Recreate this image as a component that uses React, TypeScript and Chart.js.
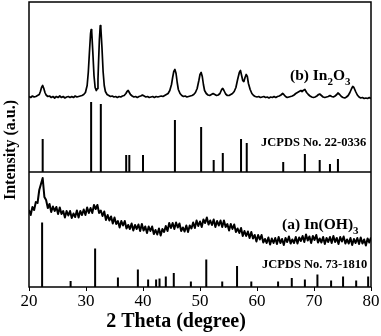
import React, { useEffect, useRef } from "react";
import { Chart, registerables } from "chart.js";
Chart.register(...registerables);

// ---------- data ----------
const thetaMin = 20;
const thetaMax = 80;
const thetaStep = 10;

// (b) In2O3 pattern: [2θ, intensity above its baseline]
const in2o3Pattern: [number, number][] = [
  [20.0, 1], [20.3, 0], [20.6, 1.5], [20.9, 0.5], [21.2, 1], [21.5, 2], [21.8, 3], [22.0, 6], [22.2, 10], [22.4, 12],
  [22.6, 9], [22.8, 5], [23.0, 2.5], [23.3, 1], [23.6, 1.5], [23.9, 0], [24.2, 1], [24.5, -0.5], [24.8, 1], [25.1, 0],
  [25.4, 1.5], [25.7, 0], [26.0, 1], [26.3, -0.5], [26.6, 0.5], [26.9, 1], [27.2, 0], [27.5, 1], [27.8, 0], [28.1, 1.5],
  [28.4, 0.5], [28.7, 1], [29.0, 1.5], [29.3, 2], [29.6, 3], [29.9, 5], [30.2, 12], [30.4, 25], [30.6, 45], [30.8, 64],
  [30.9, 68], [31.0, 66], [31.2, 45], [31.4, 22], [31.6, 10], [31.8, 7], [32.0, 9], [32.1, 18], [32.2, 35], [32.35, 58],
  [32.5, 72], [32.6, 70], [32.8, 50], [33.0, 26], [33.2, 12], [33.4, 6], [33.7, 3], [34.0, 2], [34.3, 1], [34.6, 1.5],
  [34.9, 0.5], [35.2, 1], [35.5, 0], [35.8, 1], [36.1, 0.5], [36.4, 1.5], [36.7, 2], [37.0, 4], [37.2, 6], [37.4, 7],
  [37.6, 5], [37.8, 3], [38.1, 1.5], [38.4, 0.5], [38.7, 1], [39.0, 0], [39.3, 1], [39.6, 1.5], [39.9, 2.5], [40.2, 1.5],
  [40.5, 0.5], [40.8, 1], [41.1, 0], [41.4, 0.5], [41.7, 1], [42.0, 0], [42.3, 1], [42.6, 0.5], [42.9, 1], [43.2, 1.5],
  [43.5, 1], [43.8, 2], [44.1, 3], [44.4, 4], [44.7, 7], [45.0, 13], [45.2, 20], [45.4, 26], [45.6, 28], [45.8, 24],
  [46.0, 15], [46.2, 8], [46.5, 4], [46.8, 2], [47.1, 1], [47.4, 1.5], [47.7, 0.5], [48.0, 1], [48.3, 1.5], [48.6, 2],
  [48.9, 3], [49.2, 5], [49.5, 9], [49.8, 17], [50.0, 23], [50.2, 25], [50.4, 21], [50.6, 13], [50.8, 7], [51.1, 4],
  [51.4, 2.5], [51.7, 2], [52.0, 3], [52.3, 4], [52.6, 3], [52.9, 2], [53.2, 2.5], [53.5, 4], [53.8, 8], [54.0, 9],
  [54.2, 7], [54.5, 3.5], [54.8, 2], [55.1, 2], [55.4, 3], [55.7, 4], [56.0, 6], [56.3, 10], [56.6, 18], [56.9, 25],
  [57.1, 27], [57.3, 22], [57.5, 17], [57.7, 16], [57.9, 20], [58.1, 23], [58.3, 21], [58.5, 14], [58.8, 8], [59.1, 4],
  [59.4, 2], [59.7, 1], [60.0, 0.5], [60.3, 1], [60.6, 0], [60.9, 0.5], [61.2, 1], [61.5, 0], [61.8, 0.5], [62.1, -0.5],
  [62.4, 0.5], [62.7, 0], [63.0, 1], [63.3, 0], [63.6, 1], [63.9, 1.5], [64.2, 2.5], [64.5, 4], [64.7, 3], [65.0, 1],
  [65.3, 0], [65.6, 0.5], [65.9, 1], [66.2, 1.5], [66.5, 2.5], [66.8, 4], [67.1, 5], [67.4, 6], [67.7, 7], [67.9, 6],
  [68.1, 7], [68.4, 8], [68.7, 5], [69.0, 3], [69.3, 1.5], [69.6, 0.5], [69.9, 0], [70.2, 0.5], [70.5, 1.5], [70.8, 3],
  [71.0, 3.5], [71.3, 2], [71.6, 0.5], [71.9, 0], [72.2, 0.5], [72.5, 1], [72.8, 2], [73.1, 1], [73.4, 0.5], [73.7, 1.5],
  [74.0, 3], [74.2, 4.5], [74.5, 3], [74.8, 1], [75.1, 0], [75.4, -0.5], [75.7, 0.5], [76.0, 2], [76.3, 5], [76.6, 9],
  [76.8, 11], [77.0, 10], [77.3, 6], [77.6, 2.5], [77.9, 0.5], [78.2, -0.5], [78.5, 0], [78.8, -1], [79.1, -0.5], [79.4, -1],
  [79.7, 0], [80.0, -1],
];

// (a) In(OH)3 pattern: [2θ, intensity]
const inoh3Pattern: [number, number][] = [
  [20.0, 77], [20.3, 72], [20.6, 80], [20.9, 77], [21.2, 85], [21.5, 84], [21.8, 97], [22.1, 103], [22.4, 109], [22.7, 90],
  [23.0, 87], [23.3, 79], [23.6, 83], [23.9, 75], [24.2, 80.5], [24.5, 76], [24.8, 80], [25.1, 73], [25.4, 79.5], [25.7, 73],
  [26.0, 76], [26.3, 69.5], [26.6, 76], [26.9, 71.5], [27.2, 76], [27.5, 69], [27.8, 73.5], [28.1, 70], [28.4, 76.5], [28.7, 69.5],
  [29.0, 76], [29.3, 72], [29.6, 77.5], [29.9, 72], [30.2, 79.5], [30.5, 74], [30.8, 79], [31.1, 74], [31.4, 82], [31.7, 78],
  [32.0, 82], [32.3, 74], [32.6, 76.5], [32.9, 71], [33.2, 75.5], [33.5, 67], [33.8, 72], [34.1, 66.5], [34.4, 70.5], [34.7, 63.5],
  [35.0, 69.5], [35.3, 63], [35.6, 66], [35.9, 59.5], [36.2, 66], [36.5, 61.5], [36.8, 66], [37.1, 58.5], [37.4, 62], [37.7, 58],
  [38.0, 63.5], [38.3, 56.5], [38.6, 62], [38.9, 58], [39.2, 62.5], [39.5, 56], [39.8, 63], [40.1, 56.5], [40.4, 60.5], [40.7, 54],
  [41.0, 60.5], [41.3, 56], [41.6, 60.5], [41.9, 53], [42.2, 57], [42.5, 52.5], [42.8, 58.5], [43.1, 51.5], [43.4, 58], [43.7, 55],
  [44.0, 61], [44.3, 56], [44.6, 64], [44.9, 59], [45.2, 64], [45.5, 58], [45.8, 64.5], [46.1, 59.5], [46.4, 63.5], [46.7, 56],
  [47.0, 59.5], [47.3, 55.5], [47.6, 61.5], [47.9, 55], [48.2, 61.5], [48.5, 58.5], [48.8, 64.5], [49.1, 59], [49.4, 66.5], [49.7, 61],
  [50.0, 65.5], [50.3, 60], [50.6, 67.5], [50.9, 64], [51.2, 69.5], [51.5, 62.5], [51.8, 66.5], [52.1, 62], [52.4, 67.5], [52.7, 60],
  [53.0, 66], [53.3, 61.5], [53.6, 66.5], [53.9, 60], [54.2, 66.5], [54.5, 60], [54.8, 63], [55.1, 56.5], [55.4, 63], [55.7, 58],
  [56.0, 62.5], [56.3, 55], [56.6, 58.5], [56.9, 54], [57.2, 59], [57.5, 51], [57.8, 56], [58.1, 51], [58.4, 55.5], [58.7, 49],
  [59.0, 55], [59.3, 48.5], [59.6, 52], [59.9, 45.5], [60.2, 52], [60.5, 47.5], [60.8, 52], [61.1, 44.5], [61.4, 48], [61.7, 44],
  [62.0, 49.5], [62.3, 42.5], [62.6, 48.5], [62.9, 44], [63.2, 49], [63.5, 43], [63.8, 50], [64.1, 44], [64.4, 48], [64.7, 42],
  [65.0, 49], [65.3, 45], [65.6, 50.5], [65.9, 43.5], [66.2, 47.5], [66.5, 44], [66.8, 50], [67.1, 43.5], [67.4, 49.5], [67.7, 46],
  [68.0, 51], [68.3, 45], [68.6, 52.5], [68.9, 46.5], [69.2, 50.5], [69.5, 44], [69.8, 51], [70.1, 47], [70.4, 52], [70.7, 44.5],
  [71.0, 48.5], [71.3, 44.5], [71.6, 50], [71.9, 43], [72.2, 49], [72.5, 45], [72.8, 50], [73.1, 44], [73.4, 51], [73.7, 45],
  [74.0, 49], [74.3, 43], [74.6, 50], [74.9, 45.5], [75.2, 50.5], [75.5, 43.5], [75.8, 47.5], [76.1, 43.5], [76.4, 49], [76.7, 42],
  [77.0, 48], [77.3, 44], [77.6, 49], [77.9, 43], [78.2, 49.5], [78.5, 43.5], [78.8, 47.5], [79.1, 41.5], [79.4, 48.5], [79.7, 44.5],
  [80.0, 49.5],
];

// JCPDS No. 22-0336 reference lines (In2O3)
const jcpds220336Theta = [22.4, 30.9, 32.6, 37.05, 37.6, 40.0, 45.6, 50.2, 52.4, 54.0, 57.2, 58.2, 64.6, 68.4, 71.0, 72.8, 74.2];
const jcpds220336Int = [33, 70, 68, 17, 17, 17, 52, 45, 12, 19, 33, 29, 10, 18, 12, 8, 13];

// JCPDS No. 73-1810 reference lines (In(OH)3)
const jcpds731810Theta = [22.3, 27.3, 31.6, 35.6, 39.1, 40.9, 42.3, 42.9, 44.0, 45.4, 48.4, 51.1, 53.9, 56.5, 59.0, 63.7, 66.1, 68.4, 70.6, 73.0, 75.1, 77.4, 79.5];
const jcpds731810Int = [64.5, 6, 38.5, 9.5, 17.5, 7.5, 7.5, 8.5, 10.5, 14, 5.5, 27.5, 5.5, 21, 5.5, 5.5, 9, 7.5, 12.5, 6.5, 10.5, 6.5, 10.5];

// vertical stacking offsets (a.u.)
const yMax = 285;
const offsetIn2o3 = 189.5;
const offsetRefUpper = 115;
const offsetInoh3 = 0;
const offsetRefLower = 0;

const FONT = '"Liberation Serif", "Times New Roman", serif';

function sticks(theta: number[], inten: number[], base: number) {
  const pts: { x: number; y: number | null }[] = [];
  theta.forEach((t, i) => {
    pts.push({ x: t, y: base });
    pts.push({ x: t, y: base + inten[i] });
    pts.push({ x: t, y: null });
  });
  return pts;
}

const textPlugin = {
  id: "xrdText",
  afterDraw(chart: any) {
    const { ctx, chartArea } = chart;
    ctx.save();
    // frame
    ctx.strokeStyle = "#000";
    ctx.lineWidth = 1.5;
    ctx.strokeRect(chartArea.left, chartArea.top, chartArea.right - chartArea.left, chartArea.bottom - chartArea.top);
    ctx.fillStyle = "#000";
    // y title
    ctx.save();
    ctx.translate(11, 150);
    ctx.rotate(-Math.PI / 2);
    ctx.font = `bold 16px ${FONT}`;
    ctx.textAlign = "center";
    ctx.textBaseline = "middle";
    ctx.fillText("Intensity (a.u.)", 0, 0);
    ctx.restore();
    // x title
    ctx.font = `bold 20px ${FONT}`;
    ctx.textAlign = "center";
    ctx.textBaseline = "middle";
    ctx.fillText("2 Theta (degree)", 176, 322);

    const drawChem = (parts: [string, boolean][], x: number, y: number, size: number) => {
      ctx.textAlign = "left";
      ctx.textBaseline = "alphabetic";
      let cx = x;
      for (const [s, sub] of parts) {
        ctx.font = `bold ${sub ? Math.round(size * 0.7) : size}px ${FONT}`;
        ctx.fillText(s, cx, sub ? y + size * 0.3 : y);
        cx += ctx.measureText(s).width;
      }
    };
    drawChem([["(b) In", false], ["2", true], ["O", false], ["3", true]], 290, 80, 15.5);
    drawChem([["(a) In(OH)", false], ["3", true]], 282, 229, 15.5);

    ctx.font = `bold 12.5px ${FONT}`;
    ctx.textAlign = "left";
    ctx.textBaseline = "middle";
    ctx.fillText("JCPDS No. 22-0336", 261, 143);
    ctx.fillText("JCPDS No. 73-1810", 262, 265);
    ctx.restore();
  },
};

export default function App() {
  const ref = useRef<HTMLCanvasElement>(null);
  useEffect(() => {
    document.body.style.margin = "0";
    const canvas = ref.current!;
    const chart = new Chart(canvas, {
      type: "line",
      data: {
        datasets: [
          {
            label: "In2O3",
            data: in2o3Pattern.map(([t, v]) => ({ x: t, y: v + offsetIn2o3 })),
            borderColor: "#000",
            borderWidth: 1.7,
            pointRadius: 0,
            borderJoinStyle: "round",
          },
          {
            label: "JCPDS 22-0336",
            data: sticks(jcpds220336Theta, jcpds220336Int, offsetRefUpper),
            borderColor: "#000",
            borderWidth: 2,
            pointRadius: 0,
            spanGaps: false,
            borderCapStyle: "butt",
          },
          {
            label: "divider",
            data: [
              { x: thetaMin, y: offsetRefUpper },
              { x: thetaMax, y: offsetRefUpper },
            ],
            borderColor: "#000",
            borderWidth: 1.5,
            pointRadius: 0,
          },
          {
            label: "In(OH)3",
            data: inoh3Pattern.map(([t, v]) => ({ x: t, y: v + offsetInoh3 })),
            borderColor: "#000",
            borderWidth: 2,
            pointRadius: 0,
            borderJoinStyle: "round",
          },
          {
            label: "JCPDS 73-1810",
            data: sticks(jcpds731810Theta, jcpds731810Int, offsetRefLower),
            borderColor: "#000",
            borderWidth: 2,
            pointRadius: 0,
            spanGaps: false,
            borderCapStyle: "butt",
          },
        ] as any,
      },
      options: {
        responsive: false,
        animation: false,
        devicePixelRatio: 1,
        layout: { padding: { top: 2, right: 10, left: 0, bottom: 0 } },
        plugins: { legend: { display: false }, tooltip: { enabled: false } },
        elements: { line: { tension: 0 } },
        scales: {
          x: {
            type: "linear",
            min: thetaMin,
            max: thetaMax,
            ticks: {
              stepSize: thetaStep,
              color: "#000",
              font: { family: FONT, size: 17 },
              padding: 0,
              maxRotation: 0,
              autoSkip: false,
            },
            grid: { drawOnChartArea: false, drawTicks: true, tickLength: 4, color: "#000", lineWidth: 1 },
            border: { display: false },
            afterFit: (s: any) => {
              s.height = 49;
            },
          },
          y: {
            min: 0,
            max: yMax,
            ticks: { display: false },
            grid: { display: false },
            border: { display: false },
            afterFit: (s: any) => {
              s.width = 29;
            },
          },
        },
      } as any,
      plugins: [textPlugin],
    });
    return () => chart.destroy();
  }, []);
  return <canvas ref={ref} width={381} height={336} style={{ display: "block" }} />;
}
